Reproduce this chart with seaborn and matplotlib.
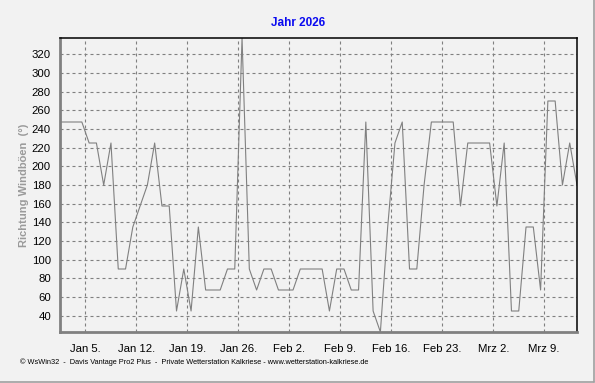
import numpy as np
import pandas as pd
import matplotlib
matplotlib.use('Agg')
import matplotlib.pyplot as plt
from matplotlib.ticker import MultipleLocator
from matplotlib.lines import Line2D
import seaborn as sns

### DATA ###
# daily direction of the max gust (degrees), one value per day, Jan 1 .. Mrz 13
start_day = '2026-01-01 12:00'
direction = [
    247.5, 247.5, 247.5, 247.5, 225, 225, 180, 225, 90, 90,
    135, 157.5, 180, 225, 157.5, 157.5, 45, 90, 45, 135,
    67.5, 67.5, 67.5, 90, 90, 337.5, 90, 67.5, 90, 90,
    67.5, 67.5, 67.5, 90, 90, 90, 90, 45, 90, 90,
    67.5, 67.5, 247.5, 45, 22.5, 135, 225, 247.5, 90, 90,
    180, 247.5, 247.5, 247.5, 247.5, 157.5, 225, 225, 225, 225,
    157.5, 225, 45, 45, 135, 135, 67.5, 270, 270, 180,
    225, 180,
]
tick_dates = ['2026-01-05', '2026-01-12', '2026-01-19', '2026-01-26', '2026-02-02',
              '2026-02-09', '2026-02-16', '2026-02-23', '2026-03-02', '2026-03-09']
tick_labels = ['Jan 5.', 'Jan 12.', 'Jan 19.', 'Jan 26.', 'Feb 2.',
               'Feb 9.', 'Feb 16.', 'Feb 23.', 'Mrz 2.', 'Mrz 9.']

df = pd.DataFrame({
    'datum': pd.date_range(start_day, periods=len(direction), freq='D'),
    'richtung': direction,
})

### STYLE ###
bg = '#f2f2f2'
sns.set_style('white', {'axes.facecolor': bg, 'figure.facecolor': bg})
plt.rcParams['font.family'] = ['Liberation Sans', 'DejaVu Sans']

fig = plt.figure(figsize=(5.95, 3.83), dpi=100)
ax = fig.add_axes([60 / 595, 1 - 332 / 383, 517 / 595, 294 / 383])

sns.lineplot(data=df, x='datum', y='richtung', ax=ax, color='#808080', linewidth=0.8)

ax.set_xlim(df['datum'].iloc[0], df['datum'].iloc[-1])
ax.set_ylim(22.5, 337.5)

# ticks
major = pd.to_datetime(tick_dates)
ax.set_xticks(major)
ax.set_xticklabels(tick_labels)
minor = major[0] + pd.to_timedelta(np.arange(-2, 40) * 42, unit='h')
minor = minor[(minor >= df['datum'].iloc[0]) & (minor <= df['datum'].iloc[-1])]
ax.set_xticks(minor, minor=True)
ax.yaxis.set_major_locator(MultipleLocator(20))
ax.yaxis.set_minor_locator(MultipleLocator(10))

ax.tick_params(axis='both', which='both', direction='out', color='#808080',
               labelsize=8.2, labelcolor='black')
ax.tick_params(axis='y', which='major', length=2.5, width=1, pad=4)
ax.tick_params(axis='y', which='minor', length=2, width=1)
ax.tick_params(axis='x', which='major', length=3.5, width=1, pad=5.5)
ax.tick_params(axis='x', which='minor', length=3, width=1)

ax.grid(True, which='major', color='#808080', linewidth=0.8, linestyle=(0, (2.7, 2.7)))

for side in ['left', 'bottom']:
    ax.spines[side].set_color('#808080')
    ax.spines[side].set_linewidth(2)
for side in ['top', 'right']:
    ax.spines[side].set_color('black')
    ax.spines[side].set_linewidth(1.1)
    ax.spines[side].set_visible(True)

ax.set_xlabel('')
ax.set_ylabel('Richtung Windböen  (°)', color='#9a9a9a', fontsize=8, fontweight='bold', labelpad=2)

fig.text(298 / 595, 1 - 23 / 383, 'Jahr 2026', color='#0a0af0', fontsize=8.5,
         fontweight='bold', ha='center', va='center')
fig.text(20 / 595, 1 - 362 / 383,
         '© WsWin32  -  Davis Vantage Pro2 Plus  -  Private Wetterstation Kalkriese - www.wetterstation-kalkriese.de',
         fontsize=5.3, ha='left', va='center', color='black')

# panel bevel on right and bottom
fig.add_artist(Line2D([593.5 / 595, 593.5 / 595], [1.5 / 383, 1], color='#a0a0a0', linewidth=1.2))
fig.add_artist(Line2D([0, 593.5 / 595], [1.5 / 383, 1.5 / 383], color='#a0a0a0', linewidth=1.2))

plt.savefig('out.png', dpi=100, facecolor=bg)
